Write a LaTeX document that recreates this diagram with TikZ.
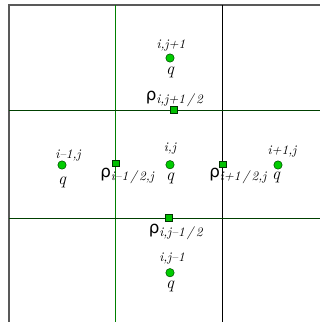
\documentclass[tikz,border=0pt]{standalone}
\usepackage{fontspec}
\newfontfamily\rhofont{DejaVu Sans}
\usepackage{tikz}
\usetikzlibrary{positioning}

\tikzset{
    pt/.style={circle,draw=green!30!black,fill=green!80!black,inner sep=0pt,minimum size=6.3pt},
    face/.style={rectangle,draw=green!20!black,fill=green!75!black,inner sep=0pt,minimum width=5.5pt,minimum height=4.6pt},
    idx/.style={font=\fontsize{9.8}{11}\selectfont\itshape,inner sep=0pt},
    qlab/.style={font=\fontsize{13}{15}\selectfont\itshape,inner sep=0pt},
    rholab/.style={anchor=west,inner sep=0pt,font=\fontsize{9.8}{11}\selectfont},
}
\newcommand{\rhosub}[1]{{\rhofont\fontsize{12.5}{14}\selectfont ρ}\raisebox{-0.55ex}{\itshape #1}}

\begin{document}
\begin{tikzpicture}[x=0.75pt,y=-0.75pt]
    \useasboundingbox (0,0) rectangle (320,322);
    % grid
    \draw[gray!70!black,line width=0.8pt] (9,322) -- (9,5) -- (320,5);
    \draw[green!50!black,line width=1pt] (115.7,5) -- (115.7,322);
    \draw[black,line width=0.8pt] (222.3,5) -- (222.3,322);
    \foreach \y in {110,218}
        \draw[green!25!black,line width=0.7pt] (9,\y) -- (320,\y);

    % cell centres
    \node[pt] (qc) at (170,164.7) {};
    \node[pt] (qn) at (170,58) {};
    \node[pt] (qs) at (170,272.7) {};
    \node[pt] (qw) at (62,165) {};
    \node[pt] (qe) at (278,165) {};

    \node[idx] (ic) at (170,149) {i,j};
    \node[qlab] (lc) at (170,178) {q};
    \node[idx] (in) at (171,45) {i,j+1};
    \node[qlab] (ln) at (170,72) {q};
    \node[idx] (is) at (172,258) {i,j--1};
    \node[qlab] (ls) at (170,286) {q};
    \node[idx] (iw) at (68,155) {i--1,j};
    \node[qlab] (lw) at (62,182) {q};
    \node[idx] (ie) at (282,151) {i+1,j};
    \node[qlab] (le) at (276,177) {q};

    % faces
    \node[face] (fn) at (173.7,109.7) {};
    \node[face] (fs) at (169,217.7) {};
    \node[face] (fw) at (115.7,163) {};
    \node[face] (fe) at (222.7,164.3) {};

    \node[rholab] (rn) at (145.5,99) {\rhosub{i,j+1\,/\,2}};
    \node[rholab] (rs) at (148.5,232) {\rhosub{i,j--1\,/\,2}};
    \node[rholab] (rw) at (100,176) {\rhosub{i--1\,/\,2,j}};
    \node[rholab] (re) at (209,176) {\rhosub{i+1\,/\,2,j}};
\end{tikzpicture}
\end{document}
